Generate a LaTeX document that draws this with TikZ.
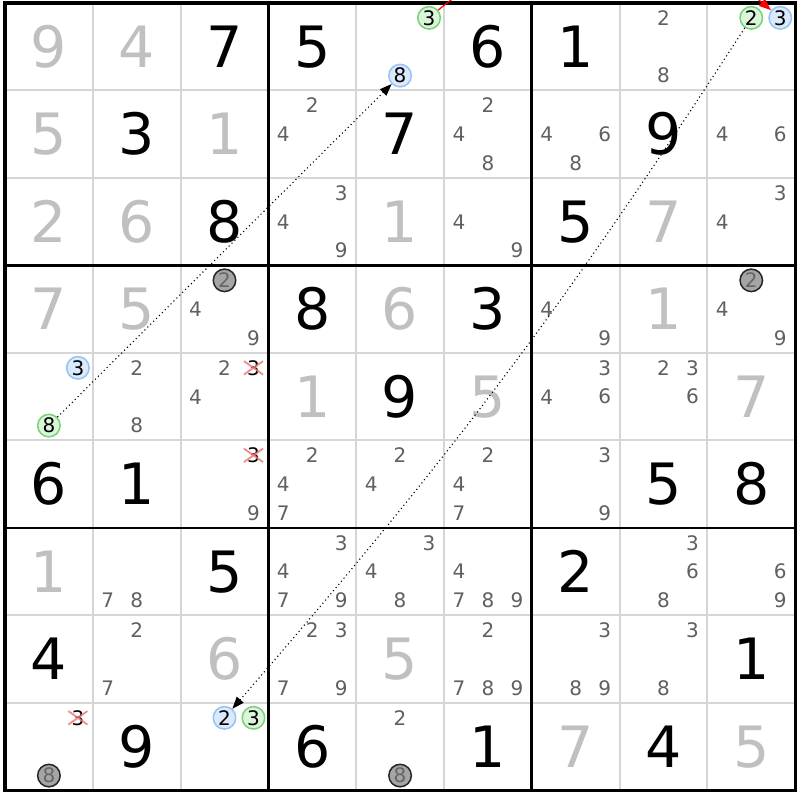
\documentclass[tikz,border=0pt]{standalone}
\usepackage{fontspec}
\setmainfont{DejaVu Sans}
\usetikzlibrary{arrows.meta}

\definecolor{solvedgrey}{RGB}{192,192,192}
\definecolor{candgrey}{RGB}{96,96,96}
\definecolor{cellline}{RGB}{214,214,214}
\definecolor{greenline}{RGB}{120,210,120}
\definecolor{greenfill}{RGB}{218,245,218}
\definecolor{blueline}{RGB}{150,195,245}
\definecolor{bluefill}{RGB}{218,233,251}
\definecolor{greyfill}{RGB}{165,165,165}
\definecolor{strikered}{RGB}{240,120,120}

\begin{document}
\begin{tikzpicture}[x=87.8pt, y=-87.5pt,
    given/.style={inner sep=0pt, font=\fontsize{57}{57}\selectfont},
    solved/.style={given, text=solvedgrey},
    cand/.style={inner sep=0pt, font=\fontsize{20}{20}\selectfont, text=candgrey},
    ringed/.style={cand, circle, minimum size=22.5pt, line width=1.5pt, text=black},
    greenmark/.style={ringed, draw=greenline, fill=greenfill},
    bluemark/.style={ringed, draw=blueline, fill=bluefill},
    greymark/.style={ringed, draw=black!85, fill=greyfill, text=black!60},
    strike/.style={strikered, line width=1.8pt, opacity=.85},
    link/.style={line width=1.1pt, dash pattern=on 1.1pt off 3pt, -{Triangle[length=12pt,width=9pt]}},
    redlink/.style={red, line width=1.2pt, -{Triangle[length=12pt,width=9pt]}}]

\useasboundingbox (-0.057,-0.034) rectangle (9.055,9.109);
\clip (-0.057,-0.034) rectangle (9.055,9.109);
\fill[white] (-0.057,-0.034) rectangle (9.055,9.109);

\draw[cellline, line width=2pt] (0,0) grid[xstep=87.8pt,ystep=87.5pt] (9,9);
\draw[line width=2.6pt] (0,0) grid[xstep=263.4pt,ystep=262.5pt] (9,9);
\draw[line width=3.2pt] (0,0) rectangle (9,9);

\node[solved] (g11) at (0.5,0.5) {9};
\node[solved] (g12) at (1.5,0.5) {4};
\node[given] (g13) at (2.5,0.5) {7};
\node[given] (g14) at (3.5,0.5) {5};
\node[given] (g16) at (5.5,0.5) {6};
\node[given] (g17) at (6.5,0.5) {1};
\node[solved] (g21) at (0.5,1.5) {5};
\node[given] (g22) at (1.5,1.5) {3};
\node[solved] (g23) at (2.5,1.5) {1};
\node[given] (g25) at (4.5,1.5) {7};
\node[given] (g28) at (7.5,1.5) {9};
\node[solved] (g31) at (0.5,2.5) {2};
\node[solved] (g32) at (1.5,2.5) {6};
\node[given] (g33) at (2.5,2.5) {8};
\node[solved] (g35) at (4.5,2.5) {1};
\node[given] (g37) at (6.5,2.5) {5};
\node[solved] (g38) at (7.5,2.5) {7};
\node[solved] (g41) at (0.5,3.5) {7};
\node[solved] (g42) at (1.5,3.5) {5};
\node[given] (g44) at (3.5,3.5) {8};
\node[solved] (g45) at (4.5,3.5) {6};
\node[given] (g46) at (5.5,3.5) {3};
\node[solved] (g48) at (7.5,3.5) {1};
\node[solved] (g54) at (3.5,4.5) {1};
\node[given] (g55) at (4.5,4.5) {9};
\node[solved] (g56) at (5.5,4.5) {5};
\node[solved] (g59) at (8.5,4.5) {7};
\node[given] (g61) at (0.5,5.5) {6};
\node[given] (g62) at (1.5,5.5) {1};
\node[given] (g68) at (7.5,5.5) {5};
\node[given] (g69) at (8.5,5.5) {8};
\node[solved] (g71) at (0.5,6.5) {1};
\node[given] (g73) at (2.5,6.5) {5};
\node[given] (g77) at (6.5,6.5) {2};
\node[given] (g81) at (0.5,7.5) {4};
\node[solved] (g83) at (2.5,7.5) {6};
\node[solved] (g85) at (4.5,7.5) {5};
\node[given] (g89) at (8.5,7.5) {1};
\node[given] (g92) at (1.5,8.5) {9};
\node[given] (g94) at (3.5,8.5) {6};
\node[given] (g96) at (5.5,8.5) {1};
\node[solved] (g97) at (6.5,8.5) {7};
\node[given] (g98) at (7.5,8.5) {4};
\node[solved] (g99) at (8.5,8.5) {5};

\node[greenmark] (k15n3) at (4.83,0.17) {3};
\node[bluemark] (k15n8) at (4.5,0.83) {8};
\node[cand] (k18n2) at (7.5,0.17) {2};
\node[cand] (k18n8) at (7.5,0.83) {8};
\node[greenmark] (k19n2) at (8.5,0.17) {2};
\node[bluemark] (k19n3) at (8.83,0.17) {3};

\node[cand] (k24n2) at (3.5,1.17) {2};
\node[cand] (k24n4) at (3.17,1.5) {4};
\node[cand] (k26n2) at (5.5,1.17) {2};
\node[cand] (k26n4) at (5.17,1.5) {4};
\node[cand] (k26n8) at (5.5,1.83) {8};
\node[cand] (k27n4) at (6.17,1.5) {4};
\node[cand] (k27n6) at (6.83,1.5) {6};
\node[cand] (k27n8) at (6.5,1.83) {8};
\node[cand] (k29n4) at (8.17,1.5) {4};
\node[cand] (k29n6) at (8.83,1.5) {6};

\node[cand] (k34n3) at (3.83,2.17) {3};
\node[cand] (k34n4) at (3.17,2.5) {4};
\node[cand] (k34n9) at (3.83,2.83) {9};
\node[cand] (k36n4) at (5.17,2.5) {4};
\node[cand] (k36n9) at (5.83,2.83) {9};
\node[cand] (k39n3) at (8.83,2.17) {3};
\node[cand] (k39n4) at (8.17,2.5) {4};

\node[greymark] (k43n2) at (2.5,3.17) {2};
\node[cand] (k43n4) at (2.17,3.5) {4};
\node[cand] (k43n9) at (2.83,3.83) {9};
\node[cand] (k47n4) at (6.17,3.5) {4};
\node[cand] (k47n9) at (6.83,3.83) {9};
\node[greymark] (k49n2) at (8.5,3.17) {2};
\node[cand] (k49n4) at (8.17,3.5) {4};
\node[cand] (k49n9) at (8.83,3.83) {9};

\node[bluemark] (k51n3) at (0.83,4.17) {3};
\node[greenmark] (k51n8) at (0.5,4.83) {8};
\node[cand] (k52n2) at (1.5,4.17) {2};
\node[cand] (k52n8) at (1.5,4.83) {8};
\node[cand] (k53n2) at (2.5,4.17) {2};
\node[cand, text=black] (k53n3) at (2.83,4.17) {3};
\node[cand] (k53n4) at (2.17,4.5) {4};
\node[cand] (k57n3) at (6.83,4.17) {3};
\node[cand] (k57n4) at (6.17,4.5) {4};
\node[cand] (k57n6) at (6.83,4.5) {6};
\node[cand] (k58n2) at (7.5,4.17) {2};
\node[cand] (k58n3) at (7.83,4.17) {3};
\node[cand] (k58n6) at (7.83,4.5) {6};

\node[cand, text=black] (k63n3) at (2.83,5.17) {3};
\node[cand] (k63n9) at (2.83,5.83) {9};
\node[cand] (k64n2) at (3.5,5.17) {2};
\node[cand] (k64n4) at (3.17,5.5) {4};
\node[cand] (k64n7) at (3.17,5.83) {7};
\node[cand] (k65n2) at (4.5,5.17) {2};
\node[cand] (k65n4) at (4.17,5.5) {4};
\node[cand] (k66n2) at (5.5,5.17) {2};
\node[cand] (k66n4) at (5.17,5.5) {4};
\node[cand] (k66n7) at (5.17,5.83) {7};
\node[cand] (k67n3) at (6.83,5.17) {3};
\node[cand] (k67n9) at (6.83,5.83) {9};

\node[cand] (k72n7) at (1.17,6.83) {7};
\node[cand] (k72n8) at (1.5,6.83) {8};
\node[cand] (k74n3) at (3.83,6.17) {3};
\node[cand] (k74n4) at (3.17,6.5) {4};
\node[cand] (k74n7) at (3.17,6.83) {7};
\node[cand] (k74n9) at (3.83,6.83) {9};
\node[cand] (k75n3) at (4.83,6.17) {3};
\node[cand] (k75n4) at (4.17,6.5) {4};
\node[cand] (k75n8) at (4.5,6.83) {8};
\node[cand] (k76n4) at (5.17,6.5) {4};
\node[cand] (k76n7) at (5.17,6.83) {7};
\node[cand] (k76n8) at (5.5,6.83) {8};
\node[cand] (k76n9) at (5.83,6.83) {9};
\node[cand] (k78n3) at (7.83,6.17) {3};
\node[cand] (k78n6) at (7.83,6.5) {6};
\node[cand] (k78n8) at (7.5,6.83) {8};
\node[cand] (k79n6) at (8.83,6.5) {6};
\node[cand] (k79n9) at (8.83,6.83) {9};

\node[cand] (k82n2) at (1.5,7.17) {2};
\node[cand] (k82n7) at (1.17,7.83) {7};
\node[cand] (k84n2) at (3.5,7.17) {2};
\node[cand] (k84n3) at (3.83,7.17) {3};
\node[cand] (k84n7) at (3.17,7.83) {7};
\node[cand] (k84n9) at (3.83,7.83) {9};
\node[cand] (k86n2) at (5.5,7.17) {2};
\node[cand] (k86n7) at (5.17,7.83) {7};
\node[cand] (k86n8) at (5.5,7.83) {8};
\node[cand] (k86n9) at (5.83,7.83) {9};
\node[cand] (k87n3) at (6.83,7.17) {3};
\node[cand] (k87n8) at (6.5,7.83) {8};
\node[cand] (k87n9) at (6.83,7.83) {9};
\node[cand] (k88n3) at (7.83,7.17) {3};
\node[cand] (k88n8) at (7.5,7.83) {8};

\node[cand, text=black] (k91n3) at (0.83,8.17) {3};
\node[greymark] (k91n8) at (0.5,8.83) {8};
\node[bluemark] (k93n2) at (2.5,8.17) {2};
\node[greenmark] (k93n3) at (2.83,8.17) {3};
\node[cand] (k95n2) at (4.5,8.17) {2};
\node[greymark] (k95n8) at (4.5,8.83) {8};

\draw[strike] ([shift={(-3pt,1pt)}]k53n3.south west) -- ([shift={(3pt,-1pt)}]k53n3.north east)
              ([shift={(-3pt,-1pt)}]k53n3.north west) -- ([shift={(3pt,1pt)}]k53n3.south east);
\draw[strike] ([shift={(-3pt,1pt)}]k63n3.south west) -- ([shift={(3pt,-1pt)}]k63n3.north east)
              ([shift={(-3pt,-1pt)}]k63n3.north west) -- ([shift={(3pt,1pt)}]k63n3.south east);
\draw[strike] ([shift={(-3pt,1pt)}]k91n3.south west) -- ([shift={(3pt,-1pt)}]k91n3.north east)
              ([shift={(-3pt,-1pt)}]k91n3.north west) -- ([shift={(3pt,1pt)}]k91n3.south east);

\draw[link] (k51n8) -- (k15n8);
\draw[link] (k19n2) to[bend left=4] (k93n2);
\draw[redlink] (k15n3) to[bend left=40] (k19n3);
\end{tikzpicture}
\end{document}
